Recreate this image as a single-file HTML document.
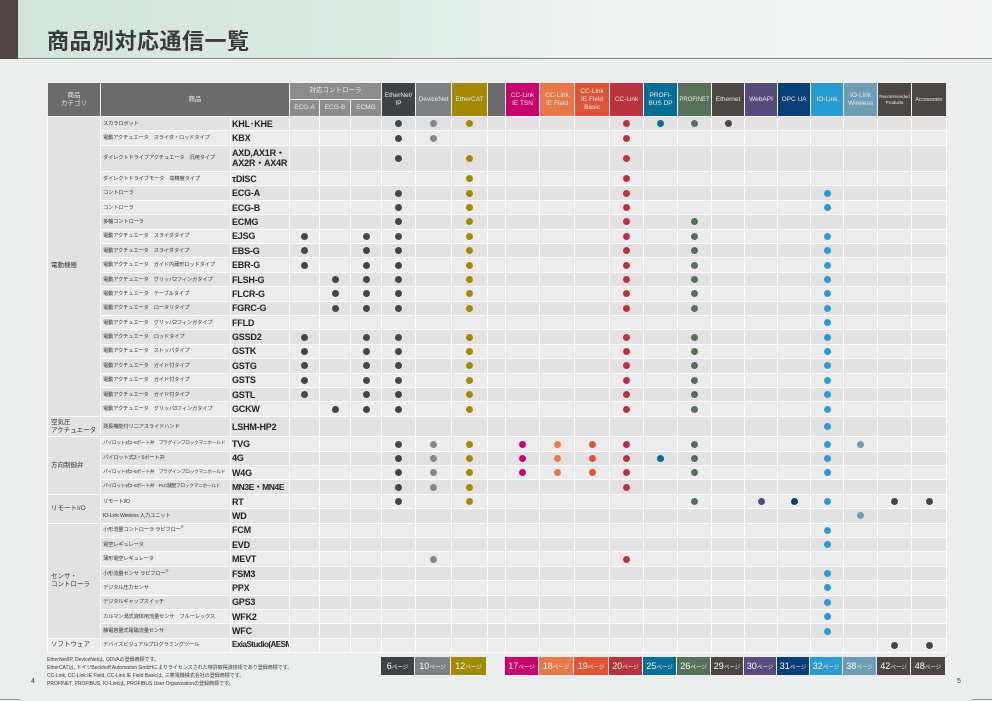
<!DOCTYPE html>
<html><head><meta charset="utf-8">
<style>
*{margin:0;padding:0;box-sizing:border-box}
body{width:992px;height:701px;overflow:hidden;background:#eceeed;font-family:"Liberation Sans","Noto Sans CJK JP",sans-serif;position:relative}
#ban{position:absolute;left:0;top:0;width:992px;height:59px;background:linear-gradient(90deg,#cfe4da 0%,#dcebe4 35%,#eef2f0 60%,#f4f5f5 100%);border-bottom:1px solid #8a8a8a}
#ban .bar{position:absolute;left:0;top:0;width:18px;height:59px;background:#4a4444}
#ban h1{position:absolute;left:47px;top:29px;font-size:22px;font-weight:bold;color:#3a3a3a;letter-spacing:0.5px;line-height:26px}
table{position:absolute;left:47px;top:82px;border-collapse:collapse;table-layout:fixed;width:899px}
td,th{border:1px solid #fff;padding:0;text-align:center;vertical-align:middle;overflow:hidden;white-space:nowrap;font-size:6px;line-height:7px}
th{font-weight:normal;color:#eee;font-size:6.5px;line-height:8px;border-color:#f0f0f0}
th.g{background:#6b6b6b}th.k{background:#8c8c8c}
tr.d td{background:#e2e2e2}tr.l td{background:#ececec}
td.cat{background:#e2e2e2!important;text-align:left;padding-left:3px;font-size:6.5px;line-height:8px;color:#333}
td.ds{text-align:left;padding-left:2px;font-size:5.3px;line-height:6px;color:#333;border-right:none;letter-spacing:-0.2px}
td.md{text-align:left;padding-left:1px;font-size:9px;font-weight:bold;color:#222;line-height:10px;letter-spacing:-0.2px}
sup{font-size:4px;line-height:0}
tr{height:14.4px}
b{display:block;margin:0 auto;width:7px;height:7px;border-radius:50%}
.a{background:#454545}.n{background:#84888b}.t{background:#a08a00}.s{background:#c8006e}.f{background:#e8774a}.g2{background:#df5434}.c{background:#b8323f}.p{background:#006e96}.q{background:#577059}.e{background:#4a4644}.w{background:#574b7e}.o{background:#073e78}.i{background:#2a9bd0}.r{background:#6e9cb4}
.pg{position:absolute;top:657px;height:18px;color:#fff;font-size:9px;line-height:18px;text-align:center}
.pg small{font-size:5.5px}
.fn{position:absolute;left:47px;font-size:5px;color:#333;line-height:6px;white-space:nowrap}
</style></head><body>
<div id="ban"><div class="bar"></div><h1>商品別対応通信一覧</h1></div>
<table>
<colgroup><col style="width:53px"><col style="width:130px"><col style="width:59px"><col style="width:30px"><col style="width:31px"><col style="width:31px"><col style="width:34px"><col style="width:36px"><col style="width:36px"><col style="width:18px"><col style="width:34px"><col style="width:35px"><col style="width:35px"><col style="width:34px"><col style="width:34px"><col style="width:34px"><col style="width:33px"><col style="width:33px"><col style="width:33px"><col style="width:33px"><col style="width:34px"><col style="width:34px"><col style="width:35px"></colgroup>
<tr style="height:16.5px"><th class="g" rowspan="2">商品<br>カテゴリ</th><th class="g" colspan="2" rowspan="2">商品</th><th class="k" colspan="3">対応コントローラ</th><th rowspan="2" style="background:#3f4245">EtherNet/<br>IP</th><th rowspan="2" style="background:#7d8184">DeviceNet</th><th rowspan="2" style="background:#a08a00">EtherCAT</th><th rowspan="2" class="g"></th><th rowspan="2" style="background:#c8006e">CC-Link<br>IE TSN</th><th rowspan="2" style="background:#e8774a">CC-Link<br>IE Field</th><th rowspan="2" style="background:#df5434">CC-Link<br>IE Field<br>Basic</th><th rowspan="2" style="background:#b8323f">CC-Link</th><th rowspan="2" style="background:#006e96">PROFI-<br>BUS DP</th><th rowspan="2" style="background:#577059;font-size:6px">PROFINET</th><th rowspan="2" style="background:#4a4644">Ethernet</th><th rowspan="2" style="background:#574b7e">WebAPI</th><th rowspan="2" style="background:#073e78">OPC UA</th><th rowspan="2" style="background:#2a9bd0">IO-Link</th><th rowspan="2" style="background:#6e9cb4">IO-Link<br>Wireless</th><th rowspan="2" style="background:#4a4644;font-size:4.5px;line-height:6px">Recommended<br>Products</th><th rowspan="2" style="background:#4a4644;font-size:5px">Accessories</th></tr>
<tr style="height:17.5px"><th class="k">ECG-A</th><th class="k">ECG-B</th><th class="k">ECMG</th></tr>

<tr class="d"><td class="cat" rowspan="20">電動機器</td><td class="ds">スカラロボット</td><td class="md">KHL･KHE</td><td></td><td></td><td></td><td><b class="a"></b></td><td><b class="n"></b></td><td><b class="t"></b></td><td></td><td></td><td></td><td></td><td><b class="c"></b></td><td><b class="p"></b></td><td><b class="q"></b></td><td><b class="e"></b></td><td></td><td></td><td></td><td></td><td></td><td></td></tr>
<tr class="l"><td class="ds">電動アクチュエータ　スライダ・ロッドタイプ</td><td class="md">KBX</td><td></td><td></td><td></td><td><b class="a"></b></td><td><b class="n"></b></td><td></td><td></td><td></td><td></td><td></td><td><b class="c"></b></td><td></td><td></td><td></td><td></td><td></td><td></td><td></td><td></td><td></td></tr>
<tr class="d" style="height:26.3px"><td class="ds">ダイレクトドライブアクチュエータ　汎用タイプ</td><td class="md">AXD,AX1R・<br>AX2R・AX4R</td><td></td><td></td><td></td><td><b class="a"></b></td><td></td><td><b class="t"></b></td><td></td><td></td><td></td><td></td><td><b class="c"></b></td><td></td><td></td><td></td><td></td><td></td><td></td><td></td><td></td><td></td></tr>
<tr class="l"><td class="ds">ダイレクトドライブモータ　高精度タイプ</td><td class="md">τDISC</td><td></td><td></td><td></td><td></td><td></td><td><b class="t"></b></td><td></td><td></td><td></td><td></td><td><b class="c"></b></td><td></td><td></td><td></td><td></td><td></td><td></td><td></td><td></td><td></td></tr>
<tr class="d"><td class="ds">コントローラ</td><td class="md">ECG-A</td><td></td><td></td><td></td><td><b class="a"></b></td><td></td><td><b class="t"></b></td><td></td><td></td><td></td><td></td><td><b class="c"></b></td><td></td><td></td><td></td><td></td><td></td><td><b class="i"></b></td><td></td><td></td><td></td></tr>
<tr class="l"><td class="ds">コントローラ</td><td class="md">ECG-B</td><td></td><td></td><td></td><td><b class="a"></b></td><td></td><td><b class="t"></b></td><td></td><td></td><td></td><td></td><td><b class="c"></b></td><td></td><td></td><td></td><td></td><td></td><td><b class="i"></b></td><td></td><td></td><td></td></tr>
<tr class="d"><td class="ds">多軸コントローラ</td><td class="md">ECMG</td><td></td><td></td><td></td><td><b class="a"></b></td><td></td><td><b class="t"></b></td><td></td><td></td><td></td><td></td><td><b class="c"></b></td><td></td><td><b class="q"></b></td><td></td><td></td><td></td><td></td><td></td><td></td><td></td></tr>
<tr class="l"><td class="ds">電動アクチュエータ　スライダタイプ</td><td class="md">EJSG</td><td><b class="a"></b></td><td></td><td><b class="a"></b></td><td><b class="a"></b></td><td></td><td><b class="t"></b></td><td></td><td></td><td></td><td></td><td><b class="c"></b></td><td></td><td><b class="q"></b></td><td></td><td></td><td></td><td><b class="i"></b></td><td></td><td></td><td></td></tr>
<tr class="d"><td class="ds">電動アクチュエータ　スライダタイプ</td><td class="md">EBS-G</td><td><b class="a"></b></td><td></td><td><b class="a"></b></td><td><b class="a"></b></td><td></td><td><b class="t"></b></td><td></td><td></td><td></td><td></td><td><b class="c"></b></td><td></td><td><b class="q"></b></td><td></td><td></td><td></td><td><b class="i"></b></td><td></td><td></td><td></td></tr>
<tr class="l"><td class="ds">電動アクチュエータ　ガイド内蔵形ロッドタイプ</td><td class="md">EBR-G</td><td><b class="a"></b></td><td></td><td><b class="a"></b></td><td><b class="a"></b></td><td></td><td><b class="t"></b></td><td></td><td></td><td></td><td></td><td><b class="c"></b></td><td></td><td><b class="q"></b></td><td></td><td></td><td></td><td><b class="i"></b></td><td></td><td></td><td></td></tr>
<tr class="d"><td class="ds">電動アクチュエータ　グリッパ2フィンガタイプ</td><td class="md">FLSH-G</td><td></td><td><b class="a"></b></td><td><b class="a"></b></td><td><b class="a"></b></td><td></td><td><b class="t"></b></td><td></td><td></td><td></td><td></td><td><b class="c"></b></td><td></td><td><b class="q"></b></td><td></td><td></td><td></td><td><b class="i"></b></td><td></td><td></td><td></td></tr>
<tr class="l"><td class="ds">電動アクチュエータ　テーブルタイプ</td><td class="md">FLCR-G</td><td></td><td><b class="a"></b></td><td><b class="a"></b></td><td><b class="a"></b></td><td></td><td><b class="t"></b></td><td></td><td></td><td></td><td></td><td><b class="c"></b></td><td></td><td><b class="q"></b></td><td></td><td></td><td></td><td><b class="i"></b></td><td></td><td></td><td></td></tr>
<tr class="d"><td class="ds">電動アクチュエータ　ロータリタイプ</td><td class="md">FGRC-G</td><td></td><td><b class="a"></b></td><td><b class="a"></b></td><td><b class="a"></b></td><td></td><td><b class="t"></b></td><td></td><td></td><td></td><td></td><td><b class="c"></b></td><td></td><td><b class="q"></b></td><td></td><td></td><td></td><td><b class="i"></b></td><td></td><td></td><td></td></tr>
<tr class="l"><td class="ds">電動アクチュエータ　グリッパ2フィンガタイプ</td><td class="md">FFLD</td><td></td><td></td><td></td><td></td><td></td><td></td><td></td><td></td><td></td><td></td><td></td><td></td><td></td><td></td><td></td><td></td><td><b class="i"></b></td><td></td><td></td><td></td></tr>
<tr class="d"><td class="ds">電動アクチュエータ　ロッドタイプ</td><td class="md">GSSD2</td><td><b class="a"></b></td><td></td><td><b class="a"></b></td><td><b class="a"></b></td><td></td><td><b class="t"></b></td><td></td><td></td><td></td><td></td><td><b class="c"></b></td><td></td><td><b class="q"></b></td><td></td><td></td><td></td><td><b class="i"></b></td><td></td><td></td><td></td></tr>
<tr class="l"><td class="ds">電動アクチュエータ　ストッパタイプ</td><td class="md">GSTK</td><td><b class="a"></b></td><td></td><td><b class="a"></b></td><td><b class="a"></b></td><td></td><td><b class="t"></b></td><td></td><td></td><td></td><td></td><td><b class="c"></b></td><td></td><td><b class="q"></b></td><td></td><td></td><td></td><td><b class="i"></b></td><td></td><td></td><td></td></tr>
<tr class="d"><td class="ds">電動アクチュエータ　ガイド付タイプ</td><td class="md">GSTG</td><td><b class="a"></b></td><td></td><td><b class="a"></b></td><td><b class="a"></b></td><td></td><td><b class="t"></b></td><td></td><td></td><td></td><td></td><td><b class="c"></b></td><td></td><td><b class="q"></b></td><td></td><td></td><td></td><td><b class="i"></b></td><td></td><td></td><td></td></tr>
<tr class="l"><td class="ds">電動アクチュエータ　ガイド付タイプ</td><td class="md">GSTS</td><td><b class="a"></b></td><td></td><td><b class="a"></b></td><td><b class="a"></b></td><td></td><td><b class="t"></b></td><td></td><td></td><td></td><td></td><td><b class="c"></b></td><td></td><td><b class="q"></b></td><td></td><td></td><td></td><td><b class="i"></b></td><td></td><td></td><td></td></tr>
<tr class="d"><td class="ds">電動アクチュエータ　ガイド付タイプ</td><td class="md">GSTL</td><td><b class="a"></b></td><td></td><td><b class="a"></b></td><td><b class="a"></b></td><td></td><td><b class="t"></b></td><td></td><td></td><td></td><td></td><td><b class="c"></b></td><td></td><td><b class="q"></b></td><td></td><td></td><td></td><td><b class="i"></b></td><td></td><td></td><td></td></tr>
<tr class="l"><td class="ds">電動アクチュエータ　グリッパ3フィンガタイプ</td><td class="md">GCKW</td><td></td><td><b class="a"></b></td><td><b class="a"></b></td><td><b class="a"></b></td><td></td><td><b class="t"></b></td><td></td><td></td><td></td><td></td><td><b class="c"></b></td><td></td><td><b class="q"></b></td><td></td><td></td><td></td><td><b class="i"></b></td><td></td><td></td><td></td></tr>

<tr class="d" style="height:20.6px"><td class="cat">空気圧<br>アクチュエータ</td><td class="ds">測長機能付リニアスライドハンド</td><td class="md">LSHM-HP2</td><td></td><td></td><td></td><td></td><td></td><td></td><td></td><td></td><td></td><td></td><td></td><td></td><td></td><td></td><td></td><td></td><td><b class="i"></b></td><td></td><td></td><td></td></tr>

<tr class="l"><td class="cat" rowspan="4">方向制御弁</td><td class="ds" style="font-size:4.8px;letter-spacing:-0.35px">パイロット式3･5ポート弁　プラグインブロックマニホールド</td><td class="md">TVG</td><td></td><td></td><td></td><td><b class="a"></b></td><td><b class="n"></b></td><td><b class="t"></b></td><td></td><td><b class="s"></b></td><td><b class="f"></b></td><td><b class="g2"></b></td><td><b class="c"></b></td><td></td><td><b class="q"></b></td><td></td><td></td><td></td><td><b class="i"></b></td><td><b class="r"></b></td><td></td><td></td></tr>
<tr class="d"><td class="ds">パイロット式3・5ポート弁</td><td class="md">4G</td><td></td><td></td><td></td><td><b class="a"></b></td><td><b class="n"></b></td><td><b class="t"></b></td><td></td><td><b class="s"></b></td><td><b class="f"></b></td><td><b class="g2"></b></td><td><b class="c"></b></td><td><b class="p"></b></td><td><b class="q"></b></td><td></td><td></td><td></td><td><b class="i"></b></td><td></td><td></td><td></td></tr>
<tr class="l"><td class="ds" style="font-size:4.8px;letter-spacing:-0.35px">パイロット式3･5ポート弁　プラグインブロックマニホールド</td><td class="md">W4G</td><td></td><td></td><td></td><td><b class="a"></b></td><td><b class="n"></b></td><td><b class="t"></b></td><td></td><td><b class="s"></b></td><td><b class="f"></b></td><td><b class="g2"></b></td><td><b class="c"></b></td><td></td><td><b class="q"></b></td><td></td><td></td><td></td><td><b class="i"></b></td><td></td><td></td><td></td></tr>
<tr class="d"><td class="ds" style="font-size:4.8px;letter-spacing:-0.35px">パイロット式3･5ポート弁　PLC就配ブロックマニホールド</td><td class="md" style="font-size:8.5px;letter-spacing:-0.4px">MN3E・MN4E</td><td></td><td></td><td></td><td><b class="a"></b></td><td><b class="n"></b></td><td><b class="t"></b></td><td></td><td></td><td></td><td></td><td><b class="c"></b></td><td></td><td></td><td></td><td></td><td></td><td></td><td></td><td></td><td></td></tr>

<tr class="l"><td class="cat" rowspan="2">リモートI/O</td><td class="ds">リモートI/O</td><td class="md">RT</td><td></td><td></td><td></td><td><b class="a"></b></td><td></td><td><b class="t"></b></td><td></td><td></td><td></td><td></td><td></td><td></td><td><b class="q"></b></td><td></td><td><b class="w"></b></td><td><b class="o"></b></td><td><b class="i"></b></td><td></td><td><b class="e"></b></td><td><b class="e"></b></td></tr>
<tr class="d"><td class="ds">IO-Link Wireless 入力ユニット</td><td class="md">WD</td><td></td><td></td><td></td><td></td><td></td><td></td><td></td><td></td><td></td><td></td><td></td><td></td><td></td><td></td><td></td><td></td><td></td><td><b class="r"></b></td><td></td><td></td></tr>

<tr class="l"><td class="cat" rowspan="8">センサ・<br>コントローラ</td><td class="ds">小形流量コントローラ ラピフロー<sup>®</sup></td><td class="md">FCM</td><td></td><td></td><td></td><td></td><td></td><td></td><td></td><td></td><td></td><td></td><td></td><td></td><td></td><td></td><td></td><td></td><td><b class="i"></b></td><td></td><td></td><td></td></tr>
<tr class="d"><td class="ds">電空レギュレータ</td><td class="md">EVD</td><td></td><td></td><td></td><td></td><td></td><td></td><td></td><td></td><td></td><td></td><td></td><td></td><td></td><td></td><td></td><td></td><td><b class="i"></b></td><td></td><td></td><td></td></tr>
<tr class="l"><td class="ds">薄形電空レギュレータ</td><td class="md">MEVT</td><td></td><td></td><td></td><td></td><td><b class="n"></b></td><td></td><td></td><td></td><td></td><td></td><td><b class="c"></b></td><td></td><td></td><td></td><td></td><td></td><td></td><td></td><td></td><td></td></tr>
<tr class="d"><td class="ds">小形流量センサ ラピフロー<sup>®</sup></td><td class="md">FSM3</td><td></td><td></td><td></td><td></td><td></td><td></td><td></td><td></td><td></td><td></td><td></td><td></td><td></td><td></td><td></td><td></td><td><b class="i"></b></td><td></td><td></td><td></td></tr>
<tr class="l"><td class="ds">デジタル圧力センサ</td><td class="md">PPX</td><td></td><td></td><td></td><td></td><td></td><td></td><td></td><td></td><td></td><td></td><td></td><td></td><td></td><td></td><td></td><td></td><td><b class="i"></b></td><td></td><td></td><td></td></tr>
<tr class="d"><td class="ds">デジタルギャップスイッチ</td><td class="md">GPS3</td><td></td><td></td><td></td><td></td><td></td><td></td><td></td><td></td><td></td><td></td><td></td><td></td><td></td><td></td><td></td><td></td><td><b class="i"></b></td><td></td><td></td><td></td></tr>
<tr class="l"><td class="ds">カルマン渦式液体用流量センサ　フルーレックス</td><td class="md">WFK2</td><td></td><td></td><td></td><td></td><td></td><td></td><td></td><td></td><td></td><td></td><td></td><td></td><td></td><td></td><td></td><td></td><td><b class="i"></b></td><td></td><td></td><td></td></tr>
<tr class="d"><td class="ds">静電容量式電磁流量センサ</td><td class="md">WFC</td><td></td><td></td><td></td><td></td><td></td><td></td><td></td><td></td><td></td><td></td><td></td><td></td><td></td><td></td><td></td><td></td><td><b class="i"></b></td><td></td><td></td><td></td></tr>

<tr class="l"><td class="cat" style="background:#ececec!important">ソフトウェア</td><td class="ds">デバイスビジュアルプログラミングツール</td><td class="md" style="font-size:8px;letter-spacing:-0.5px">ExiaStudio(AESM)</td><td></td><td></td><td></td><td></td><td></td><td></td><td></td><td></td><td></td><td></td><td></td><td></td><td></td><td></td><td></td><td></td><td></td><td></td><td><b class="e"></b></td><td><b class="e"></b></td></tr>
</table>

<div class="pg" style="left:381px;width:33px;background:#3f4245">6<small>ページ</small></div>
<div class="pg" style="left:415px;width:35px;background:#7d8184">10<small>ページ</small></div>
<div class="pg" style="left:451px;width:35px;background:#a08a00">12<small>ページ</small></div>
<div class="pg" style="left:505px;width:33px;background:#c8006e">17<small>ページ</small></div>
<div class="pg" style="left:539px;width:34px;background:#e8774a">18<small>ページ</small></div>
<div class="pg" style="left:574px;width:34px;background:#df5434">19<small>ページ</small></div>
<div class="pg" style="left:609px;width:33px;background:#b8323f">20<small>ページ</small></div>
<div class="pg" style="left:643px;width:33px;background:#006e96">25<small>ページ</small></div>
<div class="pg" style="left:677px;width:33px;background:#577059">26<small>ページ</small></div>
<div class="pg" style="left:711px;width:32px;background:#4a4644">29<small>ページ</small></div>
<div class="pg" style="left:744px;width:32px;background:#574b7e">30<small>ページ</small></div>
<div class="pg" style="left:777px;width:32px;background:#073e78">31<small>ページ</small></div>
<div class="pg" style="left:810px;width:32px;background:#2a9bd0">32<small>ページ</small></div>
<div class="pg" style="left:843px;width:33px;background:#6e9cb4">38<small>ページ</small></div>
<div class="pg" style="left:877px;width:33px;background:#4a4644">42<small>ページ</small></div>
<div class="pg" style="left:911px;width:34px;background:#4a4644">48<small>ページ</small></div>

<div class="fn" style="top:657px">EtherNet/IP, DeviceNetは, ODVAの登録商標です。</div>
<div class="fn" style="top:665px">EtherCATは, ドイツBeckhoff Automation GmbHによりライセンスされた特許取得済技術であり登録商標です。</div>
<div class="fn" style="top:673px">CC-Link, CC-Link IE Field, CC-Link IE Field Basicは, 三菱電機株式会社の登録商標です。</div>
<div class="fn" style="top:681px">PROFINET, PROFIBUS, IO-Linkは, PROFIBUS User Organizationの登録商標です。</div>
<div style="position:absolute;left:31px;top:678px;font-size:7px;color:#333">4</div>
<div style="position:absolute;left:957px;top:678px;font-size:7px;color:#333">5</div>
<div style="position:absolute;left:0;top:699px;width:20px;height:1px;background:#999"></div>
<div style="position:absolute;left:972px;top:699px;width:20px;height:1px;background:#999"></div>
</body></html>
